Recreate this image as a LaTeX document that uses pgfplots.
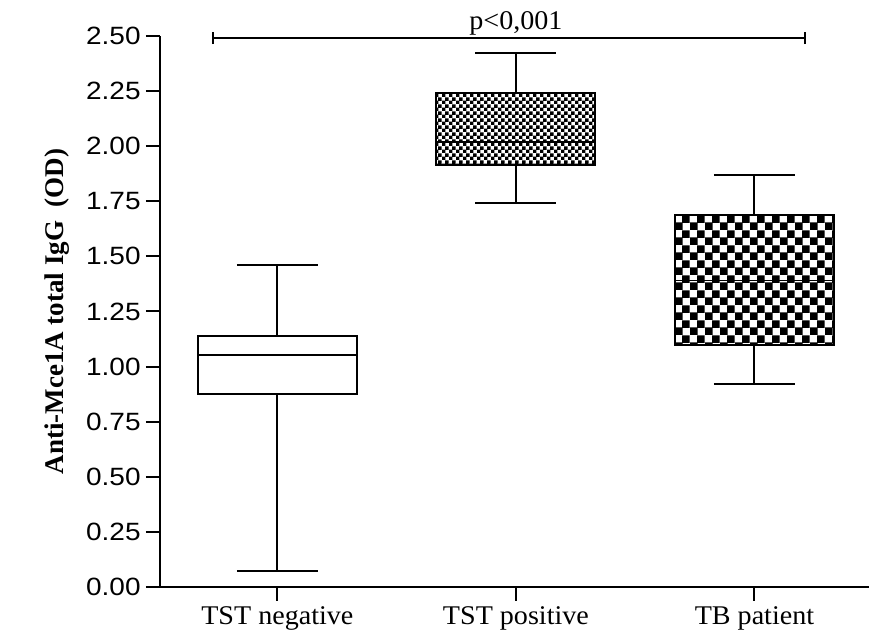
\documentclass[border=0pt]{standalone}
\usepackage{pgfplots}
\pgfplotsset{compat=1.18}
\usepgfplotslibrary{statistics}
\usetikzlibrary{patterns}
\usepackage{fontspec}
\setmainfont{Liberation Serif}
\newfontfamily\tnr[FakeStretch=1.04]{Liberation Serif}
\newfontfamily\arial[FakeStretch=1.12]{Liberation Sans}

\pgfdeclarepatternformonly{finecheck}{\pgfpointorigin}{\pgfqpoint{3.3pt}{3.3pt}}{\pgfqpoint{3.3pt}{3.3pt}}{%
  \pgfpathrectangle{\pgfpointorigin}{\pgfqpoint{1.8pt}{1.8pt}}%
  \pgfpathrectangle{\pgfqpoint{1.65pt}{1.65pt}}{\pgfqpoint{1.8pt}{1.8pt}}%
  \pgfusepath{fill}}
\pgfdeclarepatternformonly{coarsecheck}{\pgfpointorigin}{\pgfqpoint{7.5pt}{7.5pt}}{\pgfqpoint{7.5pt}{7.5pt}}{%
  \pgfpathrectangle{\pgfpointorigin}{\pgfqpoint{4.05pt}{4.05pt}}%
  \pgfpathrectangle{\pgfqpoint{3.75pt}{3.75pt}}{\pgfqpoint{4.05pt}{4.05pt}}%
  \pgfusepath{fill}}

\begin{document}
\begin{tikzpicture}
\useasboundingbox (-80pt,-24pt) rectangle (354.5pt,293.5pt);
\begin{axis}[
  at={(0pt,0pt)}, anchor=south west,
  scale only axis, width=354.5pt, height=275.5pt,
  xmin=-0.492, xmax=2.48, ymin=0, ymax=2.5,
  axis x line*=bottom, axis y line*=left,
  axis line style={line width=1pt, black},
  xtick={0,1,2},
  xticklabels={TST negative, TST positive, TB patient},
  ytick={0,0.25,0.5,0.75,1,1.25,1.5,1.75,2,2.25,2.5},
  /pgf/number format/.cd, fixed, fixed zerofill, precision=2, assume math mode=true,
  /pgfplots/.cd,
  tick align=outside, major tick length=7pt,
  tick style={line width=1pt, black},
  yticklabel style={font=\arial\fontsize{12.5}{14}\selectfont, inner sep=2.5pt},
  xticklabel style={font=\tnr\fontsize{13.5}{15}\selectfont, inner sep=2.5pt},
  ylabel={Anti-Mce1A total IgG\ \ (OD)},
  ylabel style={font=\bfseries\fontsize{13.5}{15}\selectfont, at={(axis description cs:-0.1457,0.5)}, anchor=center},
  clip=false,
  boxplot/draw direction=y,
  boxplot/box extend=0.666,
  boxplot/whisker extend=0.34,
]
\addplot[draw=black, line width=1pt, boxplot prepared={lower whisker=0.073, lower quartile=0.876, median=1.053, upper quartile=1.139, upper whisker=1.461, draw position=0}, boxplot/every box/.style={draw=black, fill=white}] coordinates {};
\addplot[draw=black, line width=1pt, boxplot prepared={lower whisker=1.744, lower quartile=1.915, median=2.02, upper quartile=2.243, upper whisker=2.425, draw position=1}, boxplot/every box/.style={draw=black, pattern=finecheck}] coordinates {};
\addplot[draw=black, line width=1pt, boxplot prepared={lower whisker=0.921, lower quartile=1.098, median=1.39, upper quartile=1.688, upper whisker=1.869, draw position=2}, boxplot/every box/.style={draw=black, pattern=coarsecheck}, boxplot/every median/.style={line width=0.3pt}] coordinates {};

\draw[line width=1pt] (axis cs:-0.27,2.49) -- (axis cs:2.21,2.49);
\draw[line width=1pt] (axis cs:-0.27,2.49) ++(0pt,-3pt) -- ++(0pt,6pt);
\draw[line width=1pt] (axis cs:2.21,2.49) ++(0pt,-3pt) -- ++(0pt,6pt);
\node[anchor=south, font=\tnr\fontsize{13.5}{15}\selectfont, inner sep=1.5pt] at (axis cs:1,2.49) {p<0,001};
\end{axis}
\end{tikzpicture}
\end{document}
